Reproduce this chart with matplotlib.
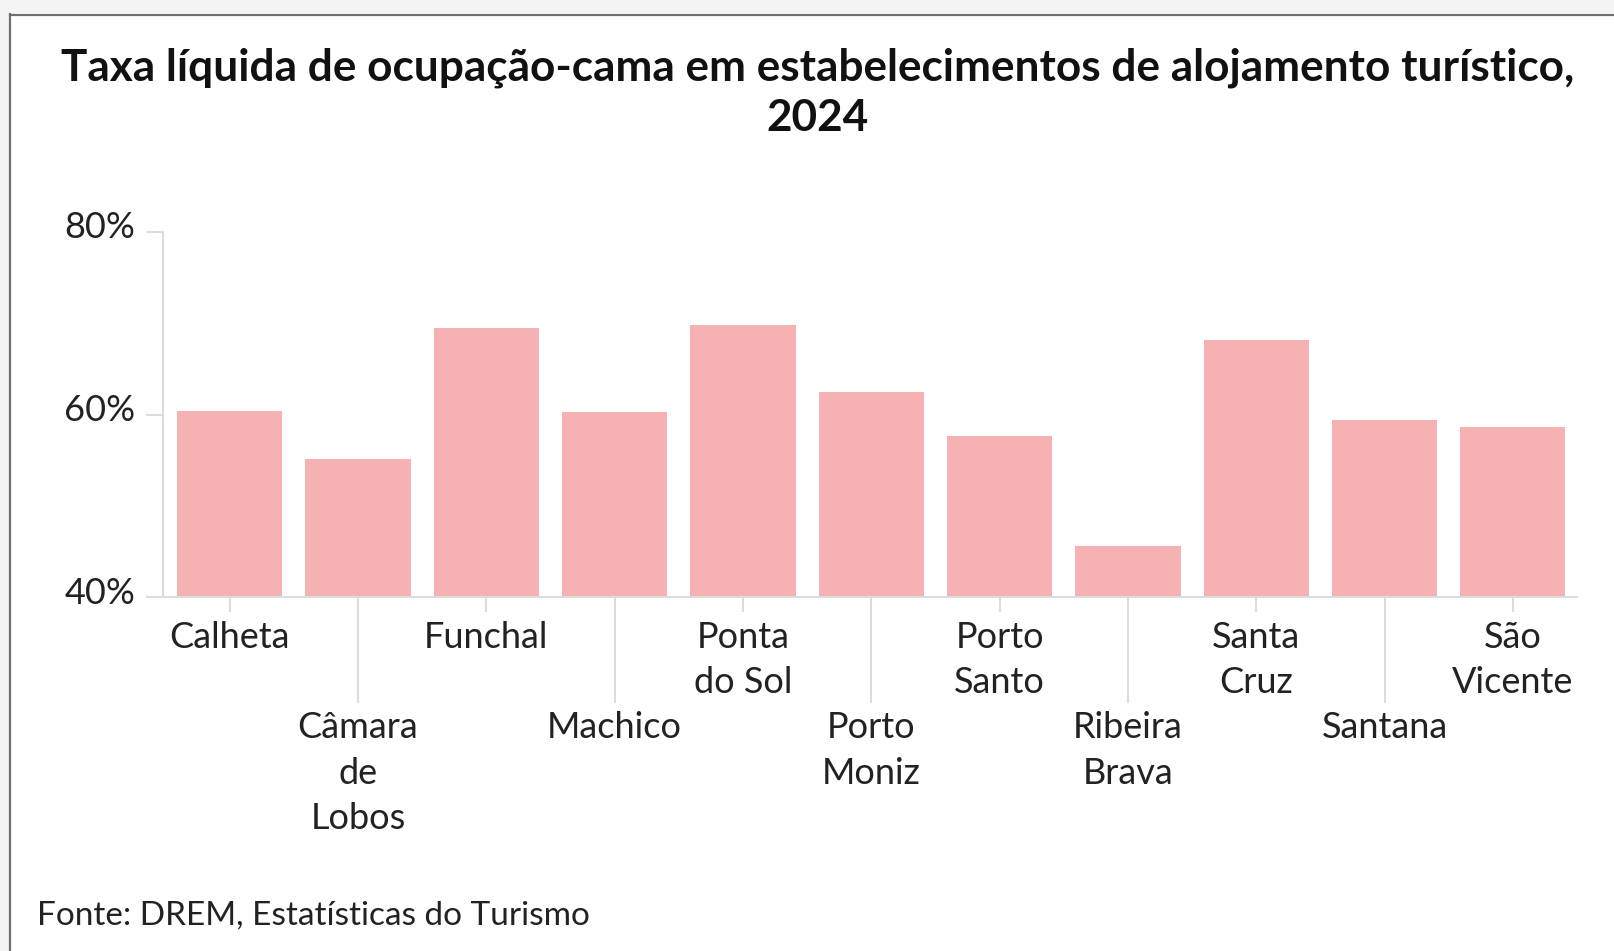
import matplotlib
matplotlib.use("Agg")
import matplotlib.pyplot as plt
from matplotlib.patches import Rectangle
from matplotlib.lines import Line2D
from matplotlib.transforms import ScaledTranslation
import numpy as np

categories = ["Calheta", "Câmara de Lobos", "Funchal", "Machico", "Ponta do Sol",
              "Porto Moniz", "Porto Santo", "Ribeira Brava", "Santa Cruz",
              "Santana", "São Vicente"]
tick_labels = ["Calheta", "Câmara\nde\nLobos", "Funchal", "Machico", "Ponta\ndo Sol",
               "Porto\nMoniz", "Porto\nSanto", "Ribeira\nBrava", "Santa\nCruz",
               "Santana", "São\nVicente"]
values = [60.4, 55.1, 69.5, 60.25, 69.8, 62.5, 57.7, 45.6, 68.1, 59.4, 58.6]
y_ticks = [40, 60, 80]
y_tick_labels = ["40%", "60%", "80%"]

title = "Taxa líquida de ocupação-cama em estabelecimentos de alojamento turístico,\n2024"
source = "Fonte: DREM, Estatísticas do Turismo"

W, H = 1614, 951
fig = plt.figure(figsize=(W / 100, H / 100), dpi=100)
fig.patch.set_facecolor("white")

# outer frame (top/left light gray strip + gray border)
fig.patches.append(Rectangle((0, 1 - 13 / H), 1, 13 / H, transform=fig.transFigure,
                             facecolor="#f4f4f4", edgecolor="none", zorder=0))
fig.patches.append(Rectangle((0, 0), 9 / W, 1, transform=fig.transFigure,
                             facecolor="#f4f4f4", edgecolor="none", zorder=0))
fig.lines.append(Line2D([9.5 / W, 1], [1 - 14.5 / H, 1 - 14.5 / H], transform=fig.transFigure,
                        color="#6f6f6f", lw=1.6))
fig.lines.append(Line2D([10 / W, 10 / W], [0, 1 - 14 / H], transform=fig.transFigure,
                        color="#6f6f6f", lw=1.6))

font = "Lato"
lab_size = 26
ax_left, ax_right = 163 / W, 1577 / W
ax_bottom, ax_top = 1 - 597.3 / H, 1 - 231.7 / H
ax = fig.add_axes([ax_left, ax_bottom, ax_right - ax_left, ax_top - ax_bottom])

x = np.arange(len(categories))
ax.bar(x, values, width=0.82, bottom=0, color="#f6b2b2", zorder=2)
ax.set_ylim(40, 80)
ax.set_xlim(-0.52, 10.5)

for s in ["top", "right"]:
    ax.spines[s].set_visible(False)
for s in ["left", "bottom"]:
    ax.spines[s].set_color("#dcdcdc")
    ax.spines[s].set_linewidth(1.5)

ax.set_yticks(y_ticks)
ax.set_yticklabels(y_tick_labels, fontfamily=font, fontsize=lab_size, color="#222222")
ax.tick_params(axis="y", length=12, width=1.5, color="#dcdcdc", pad=8)
for lab in ax.get_yticklabels():
    lab.set_transform(lab.get_transform() + ScaledTranslation(0, 7 / 100, fig.dpi_scale_trans))

even = x[::2]
odd = x[1::2]
ax.set_xticks(even)
ax.set_xticklabels([tick_labels[i] for i in even], fontfamily=font, fontsize=lab_size,
                   color="#222222", linespacing=1.46)
ax.set_xticks(odd, minor=True)
ax.set_xticklabels([tick_labels[i] for i in odd], minor=True, fontfamily=font,
                   fontsize=lab_size, color="#222222", linespacing=1.46)
ax.tick_params(axis="x", which="major", length=11, width=1.5, color="#dcdcdc", pad=6)
ax.tick_params(axis="x", which="minor", length=76, width=1.5, color="#dcdcdc", pad=6)

fig.text(818 / W, 1 - 47 / H, title, ha="center", va="top", fontfamily=font,
         fontweight="bold", fontsize=31.8, color="#111111", linespacing=1.33)
fig.text(37 / W, 1 - 916 / H, source, ha="left", va="center", fontfamily=font,
         fontsize=24, color="#222222")

fig.savefig("out.png", dpi=100)
